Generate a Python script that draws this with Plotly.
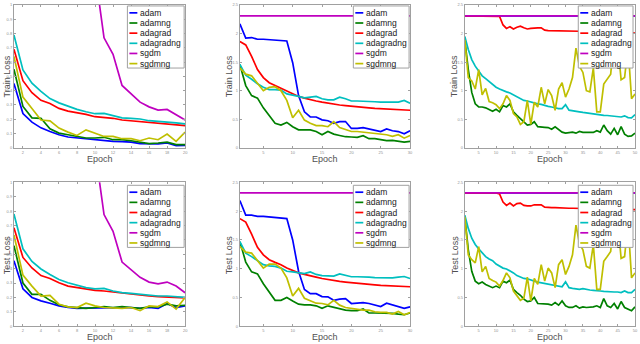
import plotly.graph_objects as go

# series names / colours (MATLAB-style legacy colours)
names = ["adam", "adamng", "adagrad", "adagradng", "sgdm", "sgdmng"]
colors = ["#0000ff", "#008000", "#ff0000", "#00bfbf", "#bf00bf", "#bfbf00"]

ep20 = list(range(1, 21))
ep30 = list(range(1, 31))
ep50 = list(range(1, 51))

# --- panel 1 : train loss, 20 epochs
p1_adam = [0.45, 0.24, 0.18, 0.14, 0.115, 0.092, 0.076, 0.069, 0.064, 0.057,
           0.053, 0.046, 0.044, 0.04, 0.03, 0.028, 0.028, 0.034, 0.016, 0.018]
p1_adamng = [0.55, 0.29, 0.21, 0.207, 0.133, 0.103, 0.092, 0.08, 0.069, 0.069,
             0.074, 0.057, 0.057, 0.05, 0.04, 0.03, 0.034, 0.04, 0.023, 0.023]
p1_adagrad = [0.69, 0.47, 0.386, 0.333, 0.31, 0.276, 0.257, 0.246, 0.234, 0.218,
              0.214, 0.207, 0.195, 0.189, 0.184, 0.177, 0.172, 0.168, 0.163, 0.156]
p1_adagradng = [0.79, 0.545, 0.453, 0.395, 0.345, 0.315, 0.292, 0.269, 0.253, 0.239,
                0.241, 0.223, 0.21, 0.207, 0.202, 0.19, 0.186, 0.179, 0.175, 0.168]
p1_sgdm = [2.30, 2.30, 2.29, 2.27, 2.22, 2.08, 1.88, 1.66, 1.44, 1.23,
           0.77, 0.655, 0.437, 0.38, 0.32, 0.287, 0.264, 0.269, 0.23, 0.195]
p1_sgdmng = [0.64, 0.355, 0.276, 0.195, 0.189, 0.138, 0.11, 0.087, 0.126, 0.103,
             0.08, 0.08, 0.064, 0.064, 0.05, 0.069, 0.057, 0.097, 0.046, 0.11]

# --- panel 2 : train loss, 30 epochs
p2_adam = [2.17, 1.92, 1.93, 1.9, 1.9, 1.89, 1.88, 1.88, 1.87, 1.49,
           0.915, 0.63, 0.54, 0.54, 0.49, 0.475, 0.43, 0.46, 0.46, 0.34,
           0.34, 0.355, 0.33, 0.315, 0.285, 0.33, 0.3, 0.285, 0.245, 0.3]
p2_adamng = [1.46, 1.09, 0.915, 0.87, 0.7, 0.56, 0.43, 0.4, 0.446, 0.37,
             0.315, 0.315, 0.315, 0.286, 0.229, 0.286, 0.24, 0.217, 0.195, 0.19,
             0.183, 0.212, 0.16, 0.16, 0.137, 0.126, 0.13, 0.114, 0.1, 0.114]
p2_adagrad = [1.86, 1.8, 1.6, 1.37, 1.23, 1.14, 1.09, 1.04, 0.99, 0.944,
              0.9, 0.87, 0.84, 0.82, 0.8, 0.78, 0.77, 0.75, 0.74, 0.727,
              0.715, 0.705, 0.7, 0.69, 0.686, 0.675, 0.67, 0.662, 0.658, 0.658]
p2_adagradng = [1.46, 1.27, 1.2, 1.12, 1.06, 1.02, 1.02, 1.01, 0.944, 0.927,
                0.9, 0.875, 0.887, 0.9, 0.86, 0.84, 0.84, 0.887, 0.86, 0.82,
                0.82, 0.82, 0.81, 0.807, 0.8, 0.8, 0.795, 0.8, 0.83, 0.78]
p2_sgdm = [2.31, 2.31, 2.31, 2.309, 2.31, 2.31, 2.309, 2.31, 2.31, 2.31,
           2.31, 2.309, 2.31, 2.31, 2.31, 2.309, 2.31, 2.31, 2.31, 2.31,
           2.309, 2.31, 2.31, 2.31, 2.31, 2.309, 2.31, 2.31, 2.31, 2.31]
p2_sgdmng = [1.4, 1.29, 1.26, 1.14, 1.0, 1.06, 1.07, 1.0, 0.83, 0.526,
             0.658, 0.486, 0.43, 0.39, 0.39, 0.37, 0.457, 0.355, 0.326, 0.286,
             0.286, 0.275, 0.27, 0.246, 0.24, 0.23, 0.2, 0.23, 0.17, 0.217]

# --- panel 3 : train loss, 50 epochs
p3_adam = [2.31, 2.31, 2.31, 2.31, 2.31, 2.31, 2.31, 2.31, 2.31, 2.31,
           2.31, 2.31, 2.31, 2.31, 2.31, 2.31, 2.31, 2.31, 2.31, 2.31,
           2.31, 2.31, 2.31, 2.31, 2.31, 2.31, 2.31, 2.31, 2.31, 2.31,
           2.31, 2.31, 2.31, 2.31, 2.31, 2.31, 2.31, 2.31, 2.31, 2.31,
           2.31, 2.31, 2.31, 2.31, 2.31, 2.31, 2.31, 2.31, 2.31, 2.31]
p3_adamng = [1.89, 1.37, 0.97, 0.77, 0.715, 0.715, 0.7, 0.675, 0.64, 0.675,
             0.63, 0.74, 0.715, 0.77, 0.63, 0.57, 0.515, 0.446, 0.4, 0.41,
             0.457, 0.37, 0.37, 0.36, 0.355, 0.326, 0.37, 0.315, 0.275, 0.257,
             0.27, 0.275, 0.257, 0.286, 0.27, 0.27, 0.275, 0.27, 0.3, 0.275,
             0.4, 0.3, 0.24, 0.34, 0.23, 0.37, 0.24, 0.2, 0.21, 0.257]
p3_adagrad = [2.31, 2.31, 2.31, 2.31, 2.31, 2.31, 2.31, 2.31, 2.31, 2.31,
              2.3, 2.15, 2.09, 2.12, 2.08, 2.11, 2.13, 2.1, 2.08, 2.09,
              2.1, 2.1, 2.1, 2.06, 2.05, 2.05, 2.05, 2.045, 2.045, 2.04,
              2.04, 2.04, 2.04, 2.04, 2.035, 2.035, 2.035, 2.03, 2.03, 2.03,
              2.03, 2.025, 2.025, 2.02, 2.02, 2.02, 2.015, 2.015, 2.01, 2.01]
p3_adagradng = [1.95, 1.72, 1.545, 1.43, 1.345, 1.26, 1.21, 1.16, 1.115, 1.06,
                1.03, 1.0, 0.98, 0.96, 0.927, 0.887, 0.85, 0.83, 0.82, 0.8,
                0.78, 0.77, 0.76, 0.74, 0.727, 0.715, 0.7, 0.686, 0.686, 0.755,
                0.66, 0.646, 0.64, 0.63, 0.62, 0.61, 0.6, 0.595, 0.59, 0.58,
                0.57, 0.566, 0.56, 0.555, 0.555, 0.54, 0.56, 0.53, 0.526, 0.58]
p3_sgdm = [2.31, 2.31, 2.31, 2.31, 2.31, 2.31, 2.31, 2.31, 2.31, 2.31,
           2.31, 2.31, 2.31, 2.31, 2.31, 2.31, 2.31, 2.31, 2.31, 2.31,
           2.31, 2.31, 2.31, 2.31, 2.31, 2.31, 2.31, 2.31, 2.31, 2.31,
           2.31, 2.31, 2.31, 2.31, 2.31, 2.31, 2.31, 2.31, 2.31, 2.31,
           2.31, 2.31, 2.31, 2.31, 2.31, 2.31, 2.31, 2.31, 2.31, 2.31]
p3_sgdmng = [1.89, 1.23, 1.17, 1.03, 1.37, 0.927, 1.04, 0.81, 0.79, 0.755,
             0.686, 0.77, 0.915, 0.83, 0.6, 0.54, 0.41, 0.457, 0.83, 0.41,
             0.8, 0.715, 1.06, 0.77, 1.02, 0.915, 0.658, 1.03, 1.14, 0.887,
             1.03, 1.23, 1.745, 1.43, 1.32, 1.0, 0.98, 1.4, 0.63, 0.63,
             1.115, 1.2, 1.29, 1.95, 1.83, 1.19, 1.23, 1.77, 0.86, 0.944]

# --- panel 4 : test loss, 20 epochs
p4_adam = [0.455, 0.26, 0.2, 0.176, 0.16, 0.142, 0.13, 0.124, 0.126, 0.126,
           0.13, 0.13, 0.13, 0.13, 0.124, 0.13, 0.124, 0.158, 0.13, 0.142]
p4_adamng = [0.56, 0.3, 0.222, 0.222, 0.18, 0.149, 0.135, 0.13, 0.124, 0.13,
             0.137, 0.13, 0.137, 0.13, 0.124, 0.135, 0.135, 0.153, 0.142, 0.146]
p4_adagrad = [0.684, 0.478, 0.405, 0.352, 0.332, 0.302, 0.279, 0.268, 0.256, 0.249,
              0.245, 0.238, 0.227, 0.22, 0.215, 0.21, 0.206, 0.204, 0.2, 0.197]
p4_adagradng = [0.78, 0.538, 0.45, 0.398, 0.36, 0.325, 0.302, 0.284, 0.268, 0.26,
                0.263, 0.245, 0.233, 0.229, 0.222, 0.217, 0.21, 0.21, 0.206, 0.2]
p4_sgdm = [2.30, 2.30, 2.29, 2.27, 2.22, 2.08, 1.88, 1.66, 1.44, 1.23,
           0.776, 0.66, 0.446, 0.394, 0.34, 0.307, 0.295, 0.307, 0.279, 0.233]
p4_sgdmng = [0.634, 0.355, 0.279, 0.21, 0.215, 0.153, 0.135, 0.13, 0.16, 0.142,
             0.13, 0.126, 0.124, 0.13, 0.108, 0.142, 0.137, 0.169, 0.119, 0.2]

# --- panel 5 : test loss, 30 epochs
p5_adam = [2.185, 1.93, 1.93, 1.91, 1.91, 1.9, 1.9, 1.89, 1.87, 1.5,
           0.955, 0.64, 0.566, 0.566, 0.515, 0.51, 0.45, 0.47, 0.48, 0.395,
           0.406, 0.41, 0.395, 0.37, 0.343, 0.4, 0.366, 0.337, 0.31, 0.337]
p5_adamng = [1.47, 1.115, 0.944, 0.91, 0.738, 0.6, 0.45, 0.45, 0.5, 0.44,
             0.383, 0.372, 0.372, 0.355, 0.31, 0.355, 0.326, 0.3, 0.28, 0.27,
             0.27, 0.3, 0.23, 0.23, 0.23, 0.223, 0.223, 0.21, 0.2, 0.23]
p5_adagrad = [1.87, 1.81, 1.6, 1.37, 1.24, 1.156, 1.11, 1.07, 1.01, 0.967,
              0.927, 0.9, 0.87, 0.852, 0.83, 0.81, 0.795, 0.778, 0.767, 0.755,
              0.744, 0.732, 0.727, 0.72, 0.71, 0.704, 0.698, 0.692, 0.686, 0.686]
p5_adagradng = [1.47, 1.27, 1.21, 1.14, 1.07, 1.05, 1.04, 1.01, 0.955, 0.944,
                0.927, 0.915, 0.944, 0.9, 0.88, 0.88, 0.87, 0.91, 0.88, 0.86,
                0.86, 0.86, 0.852, 0.846, 0.84, 0.84, 0.84, 0.852, 0.864, 0.83]
p5_sgdm = [2.317, 2.317, 2.316, 2.317, 2.317, 2.316, 2.317, 2.317, 2.317, 2.316,
           2.317, 2.317, 2.317, 2.316, 2.317, 2.317, 2.317, 2.316, 2.317, 2.317,
           2.317, 2.316, 2.317, 2.317, 2.317, 2.316, 2.317, 2.317, 2.317, 2.317]
p5_sgdmng = [1.384, 1.287, 1.27, 1.14, 1.01, 1.08, 1.08, 1.01, 0.84, 0.526,
             0.658, 0.486, 0.44, 0.4, 0.395, 0.372, 0.45, 0.366, 0.326, 0.31,
             0.3, 0.28, 0.28, 0.252, 0.24, 0.24, 0.21, 0.257, 0.2, 0.24]

# --- panel 6 : test loss, 50 epochs
p6_adam = [2.317, 2.317, 2.317, 2.317, 2.317, 2.317, 2.317, 2.317, 2.317, 2.317,
           2.317, 2.317, 2.317, 2.317, 2.317, 2.317, 2.317, 2.317, 2.317, 2.317,
           2.317, 2.317, 2.317, 2.317, 2.317, 2.317, 2.317, 2.317, 2.317, 2.317,
           2.317, 2.317, 2.317, 2.317, 2.317, 2.317, 2.317, 2.317, 2.317, 2.317,
           2.317, 2.317, 2.317, 2.317, 2.317, 2.317, 2.317, 2.317, 2.317, 2.317]
p6_adamng = [1.9, 1.327, 0.955, 0.784, 0.738, 0.767, 0.727, 0.698, 0.67, 0.698,
             0.67, 0.784, 0.755, 0.8, 0.64, 0.584, 0.538, 0.47, 0.43, 0.44,
             0.5, 0.395, 0.395, 0.395, 0.383, 0.366, 0.41, 0.366, 0.44, 0.355,
             0.326, 0.326, 0.355, 0.315, 0.337, 0.326, 0.326, 0.337, 0.355, 0.326,
             0.48, 0.355, 0.326, 0.395, 0.3, 0.43, 0.326, 0.3, 0.27, 0.337]
p6_adagrad = [2.317, 2.317, 2.317, 2.317, 2.317, 2.317, 2.317, 2.317, 2.317, 2.317,
              2.3, 2.157, 2.1, 2.14, 2.09, 2.13, 2.14, 2.1, 2.09, 2.09,
              2.11, 2.11, 2.11, 2.07, 2.06, 2.06, 2.06, 2.055, 2.055, 2.05,
              2.05, 2.05, 2.05, 2.05, 2.045, 2.045, 2.045, 2.04, 2.04, 2.04,
              2.04, 2.035, 2.035, 2.035, 2.03, 2.03, 2.03, 2.03, 2.025, 2.025]
p6_adagradng = [1.93, 1.7, 1.53, 1.42, 1.344, 1.27, 1.21, 1.17, 1.14, 1.08,
                1.04, 1.01, 0.995, 0.967, 0.927, 0.88, 0.852, 0.83, 0.824, 0.8,
                0.784, 0.767, 0.755, 0.744, 0.727, 0.715, 0.71, 0.698, 0.686, 0.77,
                0.67, 0.658, 0.652, 0.64, 0.652, 0.635, 0.63, 0.624, 0.624, 0.612,
                0.606, 0.6, 0.595, 0.595, 0.595, 0.584, 0.612, 0.584, 0.584, 0.64]
p6_sgdm = [2.317, 2.317, 2.317, 2.317, 2.317, 2.317, 2.317, 2.317, 2.317, 2.317,
           2.317, 2.317, 2.317, 2.317, 2.317, 2.317, 2.317, 2.317, 2.317, 2.317,
           2.317, 2.317, 2.317, 2.317, 2.317, 2.317, 2.317, 2.317, 2.317, 2.317,
           2.317, 2.317, 2.317, 2.317, 2.317, 2.317, 2.317, 2.317, 2.317, 2.317,
           2.317, 2.317, 2.317, 2.317, 2.317, 2.317, 2.317, 2.317, 2.317, 2.317]
p6_sgdmng = [1.9, 1.24, 1.156, 1.1, 1.384, 0.944, 1.04, 0.83, 0.795, 0.767,
             0.698, 0.795, 0.927, 0.84, 0.612, 0.526, 0.45, 0.486, 0.852, 0.44,
             0.83, 0.727, 1.07, 0.784, 1.01, 0.927, 0.67, 1.07, 1.156, 0.9,
             1.04, 1.24, 1.756, 1.44, 1.327, 1.04, 1.01, 1.42, 0.64, 0.64,
             1.127, 1.21, 1.3, 1.956, 1.84, 1.18, 1.21, 1.81, 0.84, 0.927]

panels = [
    ("Train Loss", ep20, [p1_adam, p1_adamng, p1_adagrad, p1_adagradng, p1_sgdm, p1_sgdmng], 1, 0.1, 2),
    ("Train Loss", ep30, [p2_adam, p2_adamng, p2_adagrad, p2_adagradng, p2_sgdm, p2_sgdmng], 2.5, 0.5, 5),
    ("Train Loss", ep50, [p3_adam, p3_adamng, p3_adagrad, p3_adagradng, p3_sgdm, p3_sgdmng], 2.5, 0.5, 5),
    ("Test Loss", ep20, [p4_adam, p4_adamng, p4_adagrad, p4_adagradng, p4_sgdm, p4_sgdmng], 1, 0.1, 2),
    ("Test Loss", ep30, [p5_adam, p5_adamng, p5_adagrad, p5_adagradng, p5_sgdm, p5_sgdmng], 2.5, 0.5, 5),
    ("Test Loss", ep50, [p6_adam, p6_adamng, p6_adagrad, p6_adagradng, p6_sgdm, p6_sgdmng], 2.5, 0.5, 5),
]

W, H = 640, 344
def fx(x): return x / W
def fy(y): return 1 - y / H

xdom = [(14, 186), (241, 412), (467, 638)]
ydom = [(2, 147), (182, 328)]
ylab_x = [7, 230, 457]
leg_x = [(128, 185), (355, 411), (581, 636)]
leg_y = [3, 185]

fig = go.Figure()
shapes, annotations = [], []
font = "Liberation Sans, Arial, sans-serif"

for i, (ylabel, ep, series, ymax, ydt, xdt) in enumerate(panels):
    r, c = divmod(i, 3)
    k = i + 1
    xa = "x" if k == 1 else f"x{k}"
    ya = "y" if k == 1 else f"y{k}"
    for name, col, vals in zip(names, colors, series):
        fig.add_trace(go.Scatter(x=ep, y=vals, mode="lines", name=name,
                                 line=dict(color=col, width=1.7),
                                 xaxis=xa, yaxis=ya, showlegend=False))
    ax = dict(showline=True, linecolor="#a0a0a0", linewidth=1, mirror="ticks",
              ticks="inside", ticklen=2, tickcolor="#a0a0a0", showgrid=False,
              zeroline=False, tickfont=dict(size=4, color="#909090", family=font))
    fig.update_layout(**{
        ("xaxis" if k == 1 else f"xaxis{k}"): dict(ax, domain=[fx(xdom[c][0]), fx(xdom[c][1])],
                                                   range=[1, ep[-1]], dtick=xdt, tick0=0,
                                                   anchor=ya),
        ("yaxis" if k == 1 else f"yaxis{k}"): dict(ax, domain=[fy(ydom[r][1]), fy(ydom[r][0])],
                                                   range=[0, ymax], dtick=ydt, tick0=0,
                                                   anchor=xa),
    })
    # axis titles
    annotations.append(dict(text=ylabel, x=fx(ylab_x[c]), y=fy((ydom[r][0] + ydom[r][1]) / 2),
                            xref="paper", yref="paper", textangle=-90, showarrow=False,
                            xanchor="center", yanchor="middle",
                            font=dict(size=9, color="#505050", family=font)))
    annotations.append(dict(text="Epoch", x=fx((xdom[c][0] + xdom[c][1]) / 2),
                            y=fy(ydom[r][1] + 11), xref="paper", yref="paper",
                            xanchor="center", yanchor="middle",
                            showarrow=False, font=dict(size=9, color="#505050", family=font)))
    # legend box
    lx0, lx1 = leg_x[c]
    ly0 = leg_y[r]
    shapes.append(dict(type="rect", xref="paper", yref="paper",
                       x0=fx(lx0), x1=fx(lx1), y0=fy(ly0), y1=fy(ly0 + 63),
                       line=dict(color="#a0a0a0", width=1), fillcolor="white"))
    for j, (name, col) in enumerate(zip(names, colors)):
        yy = ly0 + 7 + j * 10.3
        shapes.append(dict(type="line", xref="paper", yref="paper",
                           x0=fx(lx0 + 2), x1=fx(lx0 + 10), y0=fy(yy), y1=fy(yy),
                           line=dict(color=col, width=1.7)))
        annotations.append(dict(text=name, x=fx(lx0 + 11), y=fy(yy), xref="paper", yref="paper",
                                xanchor="left", yanchor="middle", showarrow=False,
                                font=dict(size=8.5, color="#202020", family=font)))

fig.update_layout(width=W, height=H, margin=dict(l=0, r=0, t=0, b=0),
                  paper_bgcolor="white", plot_bgcolor="white",
                  shapes=shapes, annotations=annotations, showlegend=False)
# drop the default page margin so the figure sits at the window's top-left corner
fig.write_html("out.html", config={"displayModeBar": False},
               post_script="document.body.style.margin='0';")
